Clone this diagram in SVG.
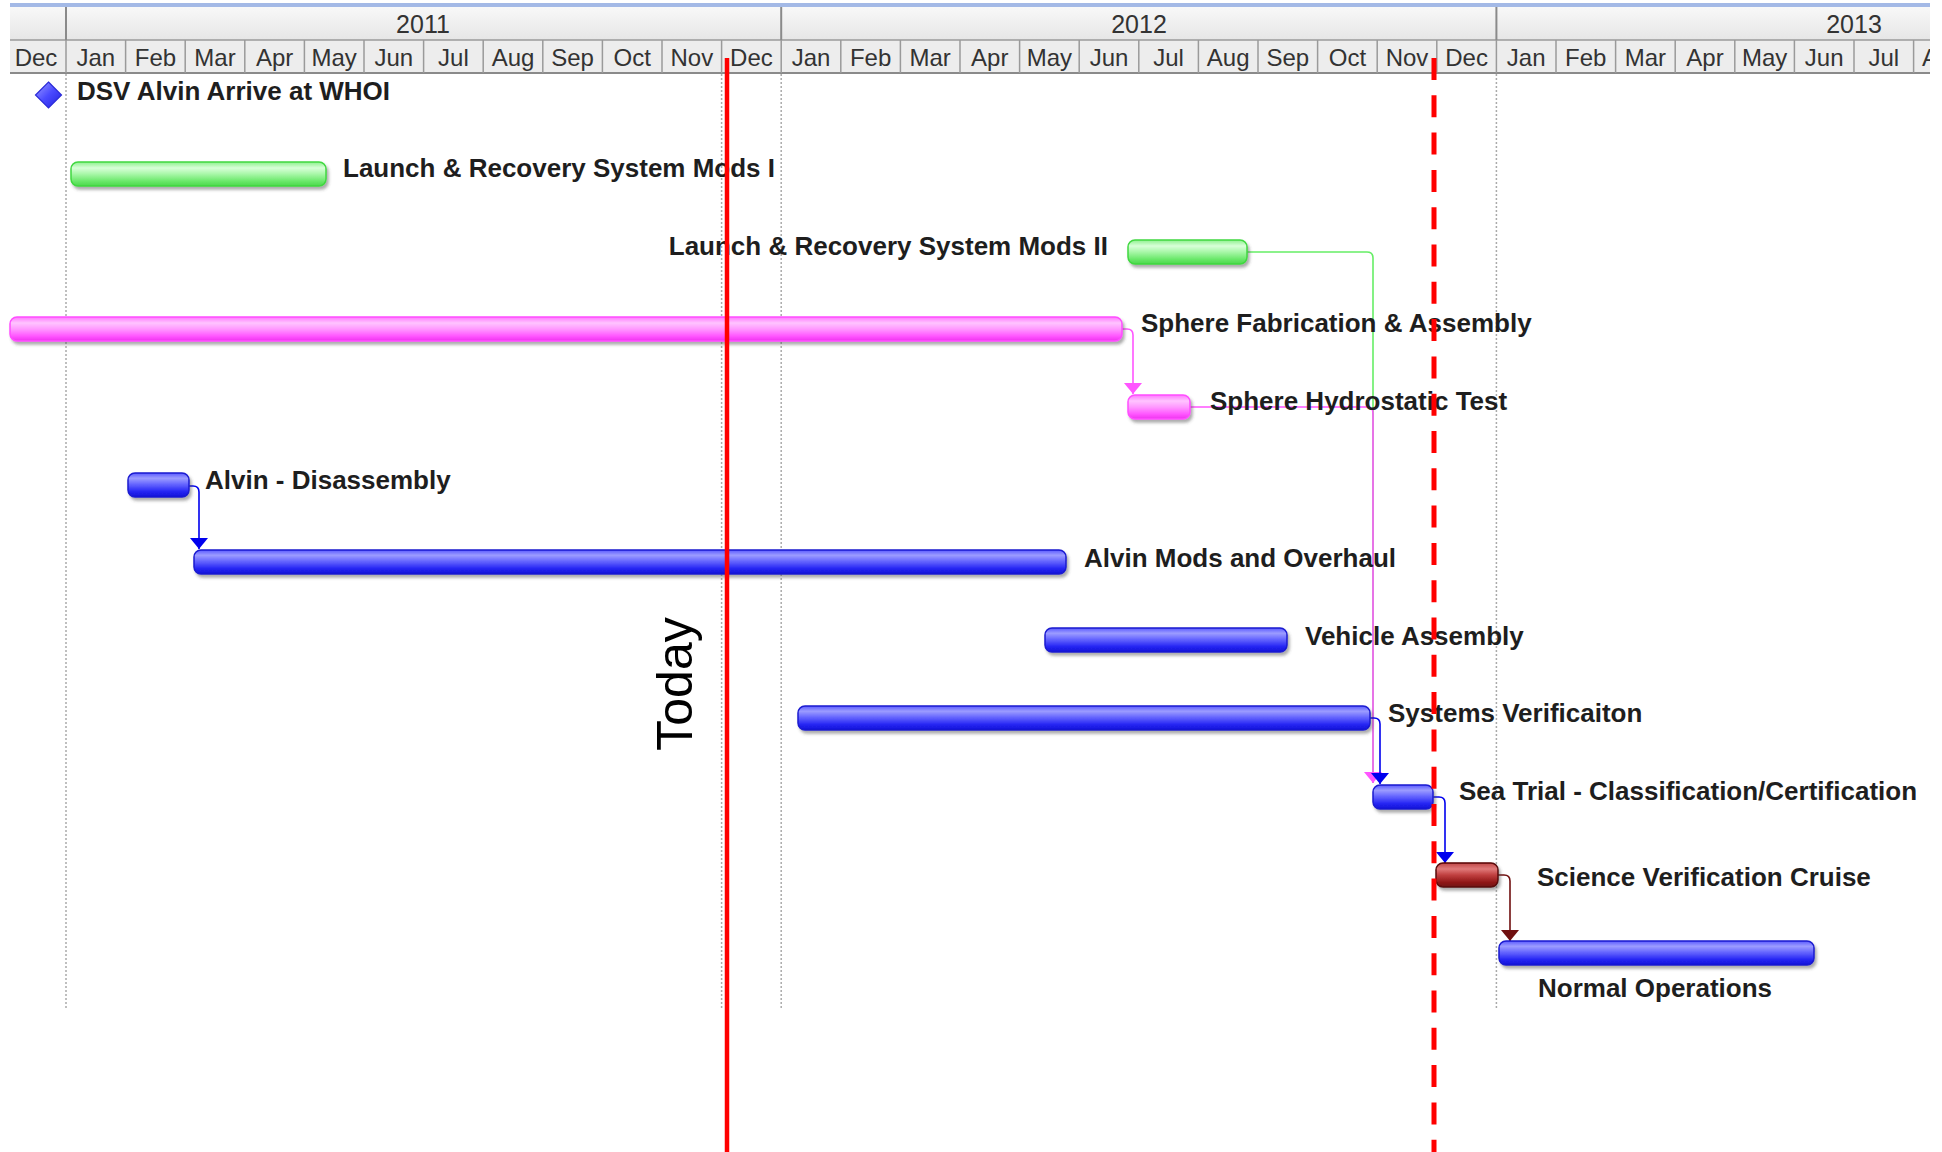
<svg xmlns="http://www.w3.org/2000/svg" width="1942" height="1152" viewBox="0 0 1942 1152">
<style>
.lbl{font-family:"Liberation Sans",Arial,sans-serif;font-weight:bold;font-size:26px;fill:#1e1e1e}
.mon{font-family:"Liberation Sans",Arial,sans-serif;font-size:24px;fill:#333;text-anchor:middle}
.yr{font-family:"Liberation Sans",Arial,sans-serif;font-size:25px;fill:#333;text-anchor:middle}
.grid{stroke:#aaaaaa;stroke-width:1.5;stroke-dasharray:2 2;fill:none}
.sep{stroke:#9a9a9a;stroke-width:1.5}
.bar{filter:url(#ds)}
.blue{fill:url(#gB);stroke:#1a1ad0;stroke-width:1.5}
.green{fill:url(#gG);stroke:#40d840;stroke-width:1.5}
.pink{fill:url(#gP);stroke:#ff4dff;stroke-width:1.5}
.red{fill:url(#gR);stroke:#5a0808;stroke-width:1.5}
.cB{stroke:#0000ee;stroke-width:1.6;fill:none;marker-end:url(#aB)}
.cG{stroke:#66ee66;stroke-width:1.6;fill:none}
.cP{stroke:#ff55ff;stroke-width:1.6;fill:none;marker-end:url(#aP)}
.cR{stroke:#701010;stroke-width:1.6;fill:none;marker-end:url(#aR)}
</style>
<defs>
<filter id="ds" x="-10%" y="-30%" width="120%" height="180%"><feDropShadow dx="2" dy="3" stdDeviation="1.5" flood-color="#444" flood-opacity="0.45"/></filter>
<linearGradient id="gB" x1="0" y1="0" x2="0" y2="1"><stop offset="0" stop-color="#5a5aff"/><stop offset="0.22" stop-color="#9c9cff"/><stop offset="0.45" stop-color="#6a6aff"/><stop offset="0.75" stop-color="#2a2af5"/><stop offset="1" stop-color="#1010d8"/></linearGradient>
<linearGradient id="gG" x1="0" y1="0" x2="0" y2="1"><stop offset="0" stop-color="#8ef08e"/><stop offset="0.25" stop-color="#d8ffd8"/><stop offset="0.5" stop-color="#a8f7a8"/><stop offset="0.8" stop-color="#6ae86a"/><stop offset="1" stop-color="#4cd84c"/></linearGradient>
<linearGradient id="gP" x1="0" y1="0" x2="0" y2="1"><stop offset="0" stop-color="#ff77ff"/><stop offset="0.25" stop-color="#ffc4ff"/><stop offset="0.5" stop-color="#ff99ff"/><stop offset="0.8" stop-color="#ff55ff"/><stop offset="1" stop-color="#ee33ee"/></linearGradient>
<linearGradient id="gR" x1="0" y1="0" x2="0" y2="1"><stop offset="0" stop-color="#c04848"/><stop offset="0.25" stop-color="#e07a7a"/><stop offset="0.5" stop-color="#c04040"/><stop offset="0.8" stop-color="#901818"/><stop offset="1" stop-color="#701010"/></linearGradient>
<linearGradient id="gD" x1="0" y1="0" x2="1" y2="1"><stop offset="0" stop-color="#a0a0ff"/><stop offset="0.5" stop-color="#4a4aff"/><stop offset="1" stop-color="#2020dd"/></linearGradient>
<linearGradient id="gY" x1="0" y1="0" x2="0" y2="1"><stop offset="0" stop-color="#f8f8f8"/><stop offset="1" stop-color="#e6e6e6"/></linearGradient>
<marker id="aB" viewBox="0 0 11 18" refX="11" refY="9" markerWidth="11" markerHeight="18" orient="auto" markerUnits="userSpaceOnUse"><path d="M0,0 L11,9 L0,18 z" fill="#0000ee"/></marker>
<marker id="aP" viewBox="0 0 11 18" refX="11" refY="9" markerWidth="11" markerHeight="18" orient="auto" markerUnits="userSpaceOnUse"><path d="M0,0 L11,9 L0,18 z" fill="#ff55ff"/></marker>
<marker id="aR" viewBox="0 0 11 18" refX="11" refY="9" markerWidth="11" markerHeight="18" orient="auto" markerUnits="userSpaceOnUse"><path d="M0,0 L11,9 L0,18 z" fill="#701010"/></marker>
<clipPath id="hc"><rect x="10" y="0" width="1920" height="80"/></clipPath>
</defs>
<rect width="1942" height="1152" fill="#ffffff"/>

<g id="header" clip-path="url(#hc)">
<rect x="10" y="3" width="1920" height="4" fill="#a3b9e6"/>
<rect x="10" y="7" width="1920" height="33" fill="url(#gY)"/>
<rect x="10" y="40" width="1920" height="33" fill="#ededed"/>
<line x1="10" y1="40" x2="1930" y2="40" stroke="#9a9a9a" stroke-width="1.5"/>
<line x1="10" y1="73" x2="1930" y2="73" stroke="#8a8a8a" stroke-width="2"/>
<g stroke="#8a8a8a" stroke-width="2">
<line x1="66" y1="7" x2="66" y2="40"/><line x1="781.2" y1="7" x2="781.2" y2="40"/><line x1="1496.4" y1="7" x2="1496.4" y2="40"/>
</g>
<g class="sep">
<line x1="66" y1="40" x2="66" y2="73"/><line x1="125.6" y1="40" x2="125.6" y2="73"/><line x1="185.2" y1="40" x2="185.2" y2="73"/><line x1="244.8" y1="40" x2="244.8" y2="73"/><line x1="304.4" y1="40" x2="304.4" y2="73"/><line x1="364" y1="40" x2="364" y2="73"/><line x1="423.6" y1="40" x2="423.6" y2="73"/><line x1="483.2" y1="40" x2="483.2" y2="73"/><line x1="542.8" y1="40" x2="542.8" y2="73"/><line x1="602.4" y1="40" x2="602.4" y2="73"/><line x1="662" y1="40" x2="662" y2="73"/><line x1="721.6" y1="40" x2="721.6" y2="73"/><line x1="781.2" y1="40" x2="781.2" y2="73"/><line x1="840.8" y1="40" x2="840.8" y2="73"/><line x1="900.4" y1="40" x2="900.4" y2="73"/><line x1="960" y1="40" x2="960" y2="73"/><line x1="1019.6" y1="40" x2="1019.6" y2="73"/><line x1="1079.2" y1="40" x2="1079.2" y2="73"/><line x1="1138.8" y1="40" x2="1138.8" y2="73"/><line x1="1198.4" y1="40" x2="1198.4" y2="73"/><line x1="1258" y1="40" x2="1258" y2="73"/><line x1="1317.6" y1="40" x2="1317.6" y2="73"/><line x1="1377.2" y1="40" x2="1377.2" y2="73"/><line x1="1436.8" y1="40" x2="1436.8" y2="73"/><line x1="1496.4" y1="40" x2="1496.4" y2="73"/><line x1="1556" y1="40" x2="1556" y2="73"/><line x1="1615.6" y1="40" x2="1615.6" y2="73"/><line x1="1675.2" y1="40" x2="1675.2" y2="73"/><line x1="1734.8" y1="40" x2="1734.8" y2="73"/><line x1="1794.4" y1="40" x2="1794.4" y2="73"/><line x1="1854" y1="40" x2="1854" y2="73"/><line x1="1913.6" y1="40" x2="1913.6" y2="73"/>
</g>
<text class="yr" x="423" y="33">2011</text>
<text class="yr" x="1139" y="33">2012</text>
<text class="yr" x="1854" y="33">2013</text>
<g class="mon">
<text x="36" y="66">Dec</text><text x="95.8" y="66">Jan</text><text x="155.4" y="66">Feb</text><text x="215" y="66">Mar</text><text x="274.6" y="66">Apr</text><text x="334.2" y="66">May</text><text x="393.8" y="66">Jun</text><text x="453.4" y="66">Jul</text><text x="513" y="66">Aug</text><text x="572.6" y="66">Sep</text><text x="632.2" y="66">Oct</text><text x="691.8" y="66">Nov</text><text x="751.4" y="66">Dec</text>
<text x="811" y="66">Jan</text><text x="870.6" y="66">Feb</text><text x="930.2" y="66">Mar</text><text x="989.8" y="66">Apr</text><text x="1049.4" y="66">May</text><text x="1109" y="66">Jun</text><text x="1168.6" y="66">Jul</text><text x="1228.2" y="66">Aug</text><text x="1287.8" y="66">Sep</text><text x="1347.4" y="66">Oct</text><text x="1407" y="66">Nov</text><text x="1466.6" y="66">Dec</text>
<text x="1526.2" y="66">Jan</text><text x="1585.8" y="66">Feb</text><text x="1645.4" y="66">Mar</text><text x="1705" y="66">Apr</text><text x="1764.6" y="66">May</text><text x="1824.2" y="66">Jun</text><text x="1883.8" y="66">Jul</text><text x="1943.4" y="66">Aug</text>
</g>
</g>

<g id="gridlines" class="grid">
<line x1="66" y1="74" x2="66" y2="1008"/>
<line x1="721.6" y1="74" x2="721.6" y2="1008"/>
<line x1="781.2" y1="74" x2="781.2" y2="1008"/>
<line x1="1496.4" y1="74" x2="1496.4" y2="1008"/>
</g>

<g id="connectors">
<path class="cG" d="M1247,252 H1367 Q1373,252 1373,258 V783"/>
<path class="cP" d="M1122,329 H1127 Q1133,329 1133,335 V394"/>
<path class="cP" d="M1190,407 H1367 Q1373,407 1373,413 V783"/>
<path class="cB" d="M189,486 H193 Q199,486 199,492 V549"/>
<path class="cB" d="M1370,718 H1374 Q1380,718 1380,724 V784"/>
<path class="cB" d="M1433,797 H1439 Q1445,797 1445,803 V863"/>
<path class="cR" d="M1498,875 H1504 Q1510,875 1510,881 V941"/>
</g>

<g id="m-arrive">
<path d="M48.5,82 L61.5,95 L48.5,108 L35.5,95 Z" fill="url(#gD)" stroke="#2a2ad8" stroke-width="1.2"/>
<text class="lbl" x="77" y="100">DSV Alvin Arrive at WHOI</text>
</g>
<g id="t-lrs1">
<rect class="bar green" x="71" y="162" width="255" height="24" rx="7"/>
<text class="lbl" x="343" y="177">Launch &amp; Recovery System Mods I</text>
</g>
<g id="t-lrs2">
<rect class="bar green" x="1128" y="240" width="119" height="24" rx="7"/>
<text class="lbl" x="1108" y="255" text-anchor="end">Launch &amp; Recovery System Mods II</text>
</g>
<g id="t-spherefab">
<rect class="bar pink" x="10" y="317" width="1112" height="24" rx="7"/>
<text class="lbl" x="1141" y="332">Sphere Fabrication &amp; Assembly</text>
</g>
<g id="t-hydro">
<rect class="bar pink" x="1128" y="395" width="62" height="24" rx="7"/>
<text class="lbl" x="1210" y="410">Sphere Hydrostatic Test</text>
</g>
<g id="t-disassembly">
<rect class="bar blue" x="128" y="473" width="61" height="24" rx="7"/>
<text class="lbl" x="205" y="489">Alvin - Disassembly</text>
</g>
<g id="t-overhaul">
<rect class="bar blue" x="194" y="550" width="872" height="24" rx="7"/>
<text class="lbl" x="1084" y="567">Alvin Mods and Overhaul</text>
</g>
<g id="t-vehicle">
<rect class="bar blue" x="1045" y="628" width="242" height="24" rx="7"/>
<text class="lbl" x="1305" y="645">Vehicle Assembly</text>
</g>
<g id="t-sysver">
<rect class="bar blue" x="798" y="706" width="572" height="24" rx="7"/>
<text class="lbl" x="1388" y="722">Systems Verificaiton</text>
</g>
<g id="t-seatrial">
<rect class="bar blue" x="1373" y="785" width="60" height="24" rx="7"/>
<text class="lbl" x="1459" y="800">Sea Trial - Classification/Certification</text>
</g>
<g id="t-science">
<rect class="bar red" x="1436" y="863" width="62" height="24" rx="7"/>
<text class="lbl" x="1537" y="886">Science Verification Cruise</text>
</g>
<g id="t-normal">
<rect class="bar blue" x="1499" y="941" width="315" height="24" rx="7"/>
<text class="lbl" x="1538" y="997">Normal Operations</text>
</g>

<g id="today">
<line x1="727" y1="58" x2="727" y2="1152" stroke="#ff0000" stroke-width="4.5"/>
<text x="0" y="0" transform="translate(692,684) rotate(-90)" font-family="'Liberation Sans',Arial,sans-serif" font-size="50" fill="#000" text-anchor="middle">Today</text>
</g>
<g id="deadline">
<line x1="1434" y1="58" x2="1434" y2="1152" stroke="#ff0000" stroke-width="5" stroke-dasharray="22 15.3"/>
</g>
</svg>
